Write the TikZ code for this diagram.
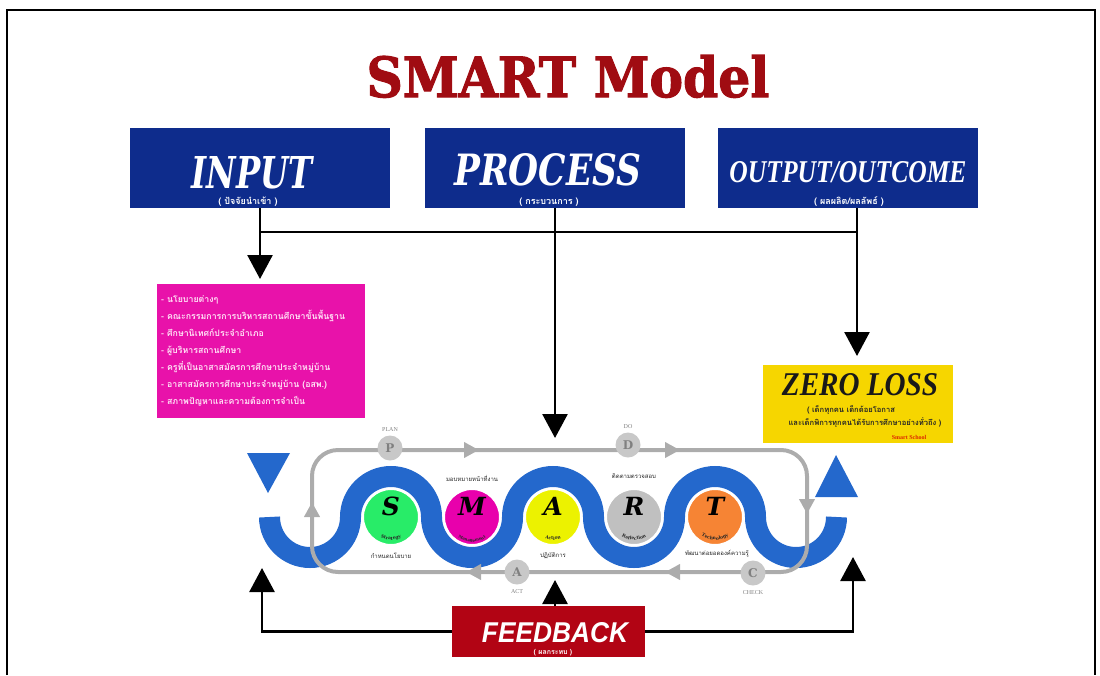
\documentclass[tikz,border=0pt]{standalone}
\usepackage{fontspec}
\usetikzlibrary{arrows.meta,decorations.text}
\newfontfamily\thaifont[Script=Thai]{Loma}
\newfontfamily\slabfont{DejaVu Serif}
\newfontfamily\heavyslab[FakeBold=2]{DejaVu Serif}
\newfontfamily\timesfont{Liberation Serif}
\newfontfamily\arialfont{Liberation Sans}
\definecolor{navy}{RGB}{14,44,140}
\definecolor{titlered}{RGB}{160,12,18}
\definecolor{magbox}{RGB}{232,18,170}
\definecolor{yelbox}{RGB}{246,214,0}
\definecolor{fbred}{RGB}{178,4,20}
\definecolor{bandblue}{RGB}{36,104,204}
\definecolor{loopgray}{RGB}{172,172,172}
\definecolor{pdcafill}{RGB}{200,200,200}
\definecolor{pdcatext}{RGB}{128,128,128}
\definecolor{cgreen}{RGB}{40,236,104}
\definecolor{cmag}{RGB}{232,0,172}
\definecolor{cyel}{RGB}{236,242,0}
\definecolor{cgray}{RGB}{192,192,192}
\definecolor{corange}{RGB}{246,132,52}
\definecolor{pinktext}{RGB}{255,225,245}
\definecolor{schoolred}{RGB}{220,40,0}
\begin{document}
\begin{tikzpicture}[x=1pt,y=-1pt,
  panel/.style={draw=none,inner sep=0pt,outer sep=0pt},
  blk/.style={draw=black,line width=2.6pt},
  blkarrow/.style={blk,-{Triangle[width=25pt,length=24pt]}},
  loopline/.style={draw=loopgray,line width=4pt},
  looparrow/.style={draw=loopgray,line width=4pt,-{Triangle[width=15pt,length=15pt]}},
  pdca/.style={circle,fill=pdcafill,minimum size=25pt,inner sep=0pt,text=pdcatext,font=\slabfont\bfseries\fontsize{12}{12}\selectfont},
  pdcalabel/.style={text=pdcatext,font=\timesfont\fontsize{6}{6}\selectfont,inner sep=0pt},
  smart/.style={circle,draw=white,line width=2pt,minimum size=56pt,inner sep=0pt},
  smartletter/.style={font=\slabfont\bfseries\itshape\fontsize{25}{25}\selectfont,text=black,inner sep=0pt},
  steplabel/.style={font=\thaifont\fontsize{6}{6}\selectfont,text=black!85,inner sep=0pt},
  band/.style={draw=bandblue,line width=21pt},
  thaisub/.style={font=\thaifont\bfseries\fontsize{9}{9}\selectfont,text=white,inner sep=0pt,anchor=base},
  magline/.style={font=\thaifont\bfseries\fontsize{8.8}{8.8}\selectfont,text=pinktext,inner sep=0pt,anchor=base west},
  zeroline/.style={font=\thaifont\bfseries\fontsize{7.6}{7.6}\selectfont,text=black!85,inner sep=0pt,anchor=base},
  curvetext/.style={decorate,decoration={text along path,text align=center,text color=black!85,text={|\slabfont\bfseries\fontsize{4.5}{4.5}\selectfont|#1}}},
  smallcurvetext/.style={decorate,decoration={text along path,text align=center,text color=black!85,text={|\slabfont\bfseries\fontsize{4}{4}\selectfont|#1}}}
]
\useasboundingbox (0,0) rectangle (1100,675);
% frame
\draw[line width=1.8pt] (7,675) -- (7,10) -- (1095,10) -- (1095,675);
% title
\node[anchor=base,inner sep=0pt,text=titlered] (title) at (568,97) {\resizebox{403pt}{42pt}{\heavyslab\bfseries SMART Model}};
% top boxes
\node[panel,fill=navy,minimum width=260pt,minimum height=80pt] (input) at (260,168) {};
\node[panel,fill=navy,minimum width=260pt,minimum height=80pt] (process) at (555,168) {};
\node[panel,fill=navy,minimum width=260pt,minimum height=80pt] (output) at (848,168) {};
\node[anchor=base,inner sep=0pt,text=white] (inputT) at (252,188) {\resizebox{121pt}{32pt}{\slabfont\bfseries\itshape INPUT}};
\node[anchor=base,inner sep=0pt,text=white] (processT) at (548,185) {\resizebox{187pt}{32pt}{\slabfont\bfseries\itshape PROCESS}};
\node[anchor=base,inner sep=0pt,text=white] (outputT) at (848,182) {\resizebox{237pt}{21pt}{\timesfont\bfseries\itshape OUTPUT/OUTCOME}};
\node[thaisub] (inputS) at (248,204) {( ปัจจัยนำเข้า )};
\node[thaisub] (processS) at (549,204) {( กระบวนการ )};
\node[thaisub] (outputS) at (849,204) {( ผลผลิต/ผลลัพธ์ )};
% connectors from top
\coordinate (jL) at (260,232);
\coordinate (jR) at (857,232);
\coordinate (inTip) at (260,279);
\coordinate (procTip) at (555,438);
\coordinate (outTip) at (857,356);
\draw[blk] (jL) -- (jR);
\draw[blkarrow] (input.south -| jL) -- (inTip);
\draw[blkarrow] (process.south) -- (procTip);
\draw[blkarrow] (output.south -| jR) -- (outTip);
% magenta input list
\node[panel,fill=magbox,minimum width=208pt,minimum height=134pt] (inlist) at (261,351) {};
\node[magline] (m1) at (161,302) {- นโยบายต่างๆ};
\node[magline] (m2) at (161,319) {- คณะกรรมการการบริหารสถานศึกษาขั้นพื้นฐาน};
\node[magline] (m3) at (161,336) {- ศึกษานิเทศก์ประจำอำเภอ};
\node[magline] (m4) at (161,353) {- ผู้บริหารสถานศึกษา};
\node[magline] (m5) at (161,370) {- ครูที่เป็นอาสาสมัครการศึกษาประจำหมู่บ้าน};
\node[magline] (m6) at (161,387) {- อาสาสมัครการศึกษาประจำหมู่บ้าน (อสพ.)};
\node[magline] (m7) at (161,404) {- สภาพปัญหาและความต้องการจำเป็น};
% zero loss
\node[panel,fill=yelbox,minimum width=190pt,minimum height=78pt] (zero) at (858,404) {};
\node[anchor=base,inner sep=0pt,text=black!90] (zeroT) at (860,395) {\resizebox{156pt}{22pt}{\timesfont\bfseries\itshape ZERO LOSS}};
\node[zeroline] (z1) at (851,412) {( เด็กทุกคน เด็กด้อยโอกาส};
\node[zeroline] (z2) at (865,425) {และเด็กพิการทุกคนได้รับการศึกษาอย่างทั่วถึง )};
\node[anchor=base,inner sep=0pt,text=schoolred,font=\timesfont\bfseries\fontsize{6}{6}\selectfont] (school) at (909,439) {Smart School};
% blue wave band
\draw[band] (269.5,517) arc[start angle=180,end angle=0,radius=40.5]
  arc[start angle=180,end angle=360,radius=40.5]
  arc[start angle=180,end angle=0,radius=40.5]
  arc[start angle=180,end angle=360,radius=40.5]
  arc[start angle=180,end angle=0,radius=40.5]
  arc[start angle=180,end angle=360,radius=40.5]
  arc[start angle=180,end angle=0,radius=40.5];
\fill[bandblue] (247,453) -- (290,453) -- (268,493) -- cycle;
\fill[bandblue] (815,497) -- (858,497) -- (836,455) -- cycle;
% gray PDCA loop
\draw[loopline,rounded corners=26pt] (312,450) rectangle (807,572);
\draw[looparrow] (458,450) -- (479,450);
\draw[looparrow] (659,450) -- (680,450);
\draw[looparrow] (807,494) -- (807,514);
\draw[looparrow] (487,572) -- (466,572);
\draw[looparrow] (686,572) -- (665,572);
\draw[looparrow] (312,522) -- (312,502);
\node[pdca] (P) at (390,448) {P};
\node[pdca] (D) at (628,445) {D};
\node[pdca] (Aact) at (517,572) {A};
\node[pdca] (C) at (753,573) {C};
\node[pdcalabel] (planL) at (390,430) {PLAN};
\node[pdcalabel] (doL) at (628,427) {DO};
\node[pdcalabel] (actL) at (517,592) {ACT};
\node[pdcalabel] (checkL) at (753,593) {CHECK};
% SMART circles
\node[smart,fill=cgreen] (cS) at (391,517) {};
\node[smart,fill=cmag] (cM) at (472,517) {};
\node[smart,fill=cyel] (cA) at (553,517) {};
\node[smart,fill=cgray] (cR) at (634,517) {};
\node[smart,fill=corange] (cT) at (715,517) {};
\node[smartletter] (lS) at (391,506) {S};
\node[smartletter] (lM) at (472,506) {M};
\node[smartletter] (lA) at (553,506) {A};
\node[smartletter] (lR) at (634,506) {R};
\node[smartletter] (lT) at (715,506) {T};
\path[curvetext=Strategy] (cS.center) ++(140:23) arc[start angle=140,end angle=40,radius=23];
\path[smallcurvetext=Management] (cM.center) ++(135:25) arc[start angle=135,end angle=45,radius=25];
\path[curvetext=Action] (cA.center) ++(140:23) arc[start angle=140,end angle=40,radius=23];
\path[curvetext=Reflection] (cR.center) ++(140:23) arc[start angle=140,end angle=40,radius=23];
\path[curvetext=Technology] (cT.center) ++(145:23) arc[start angle=145,end angle=35,radius=23];
\node[steplabel] (sS) at (391,556) {กำหนดนโยบาย};
\node[steplabel] (sM) at (472,478) {มอบหมายหน้าที่งาน};
\node[steplabel] (sA) at (553,556) {ปฏิบัติการ};
\node[steplabel] (sR) at (634,476) {ติดตามตรวจสอบ};
\node[steplabel] (sT) at (717,554) {พัฒนาต่อยอดองค์ความรู้};
% feedback
\node[panel,fill=fbred,minimum width=193pt,minimum height=51pt] (fb) at (548.5,631.5) {};
\node[anchor=base,inner sep=0pt,text=white] (fbT) at (555,642) {\resizebox{146pt}{20pt}{\arialfont\bfseries\itshape FEEDBACK}};
\node[anchor=base,inner sep=0pt,text=white,font=\thaifont\bfseries\fontsize{7}{7}\selectfont] (fbS) at (553,654) {( ผลกระทบ )};
\coordinate (fbL) at (262,568);
\coordinate (fbR) at (853,557);
\coordinate (fbM) at (555,580);
\draw[blkarrow] (fb.west) -- (fb.west -| fbL) -- (fbL);
\draw[blkarrow] (fb.east) -- (fb.east -| fbR) -- (fbR);
\draw[blkarrow] (fb.north -| fbM) -- (fbM);
\end{tikzpicture}
\end{document}
